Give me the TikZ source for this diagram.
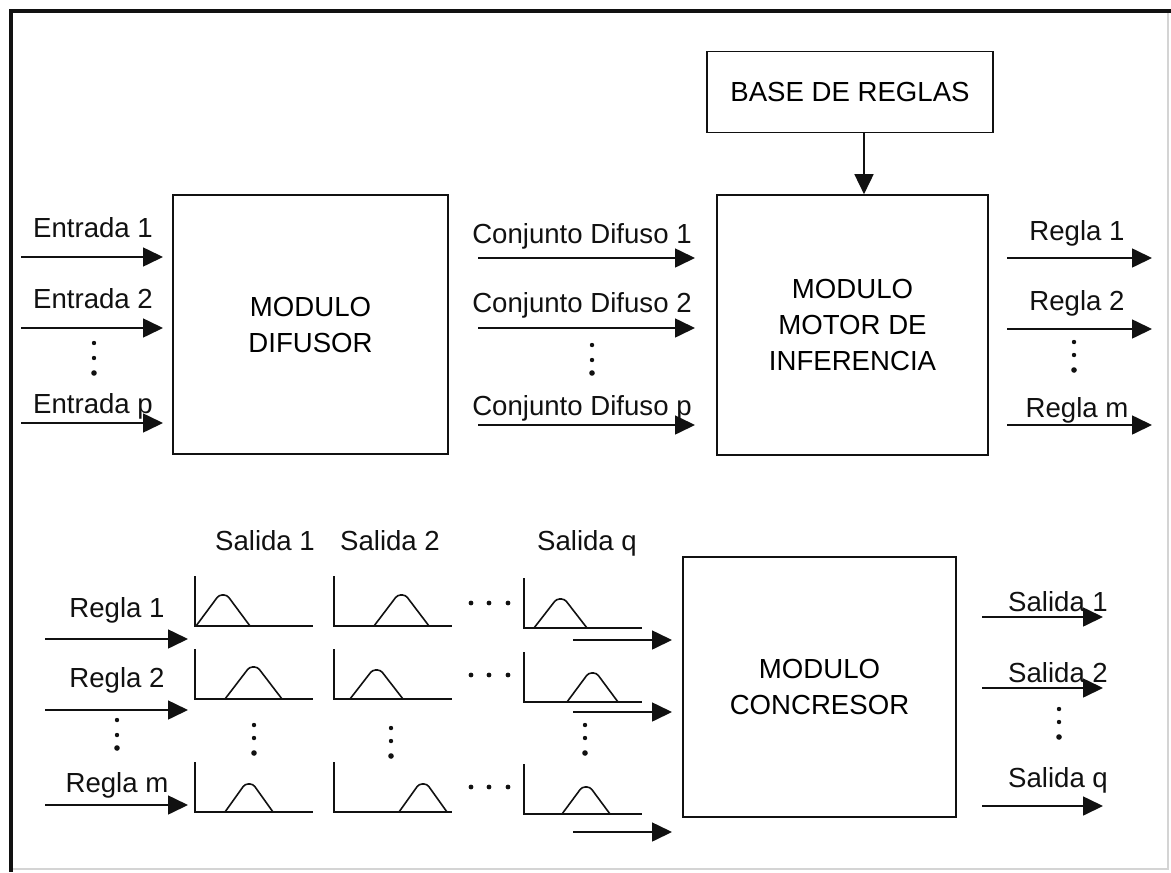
\documentclass[tikz,border=0pt]{standalone}
\usepackage{fontspec}
\setmainfont{Liberation Sans}
\usepackage{tikz}
\usetikzlibrary{positioning, arrows.meta}
\definecolor{inkBlack}{HTML}{111111}
\definecolor{edgeGrey}{HTML}{D4D4D4}

% small membership plot: axis x, base y, bump start, bump end, peak y
\newcommand{\mfplot}[5]{%
  \draw[plotline] (#1,#2-50) -- (#1,#2) -- (#1+118,#2);
  \draw[plotline, rounded corners=1.5pt] (#3,#2) -- ({(#3+#4)/2-4},#5) -- ({(#3+#4)/2+4},#5) -- (#4,#2);
}
% three stacked dots
\newcommand{\dotcol}[4]{%
  \fill[inkBlack] (#1,#2) circle (1.1pt) (#1,#3) circle (1.1pt) (#1,#4) circle (1.4pt);
}

\begin{document}
\begin{tikzpicture}[x=0.5pt, y=-0.5pt,
  font=\fontsize{13.8}{18}\selectfont,
  box/.style={draw=inkBlack, line width=0.8pt, align=center, inner sep=0pt},
  lbl/.style={anchor=base, inner sep=0pt, text=inkBlack},
  arr/.style={-{Triangle[length=10pt, width=9.5pt]}, inkBlack, line width=0.8pt},
  plotline/.style={inkBlack, line width=0.8pt}]

\useasboundingbox (0,0) rectangle (1171,872);

% frame
\draw[edgeGrey, line width=0.6pt] (1168,11) -- (1168,869) -- (11,869);
\draw[inkBlack, line width=2pt] (1171,11) -- (11,11) -- (11,872);

% modules
\node[box, minimum width=137.5pt, minimum height=129.5pt] (difusor) at (310.5,324.5) {MODULO\\DIFUSOR};
\node[box, minimum width=135.5pt, minimum height=130pt] (motor) at (852.5,325) {MODULO\\MOTOR DE\\INFERENCIA};
\node[box, minimum width=143pt, minimum height=40.5pt, above=30.5pt of motor, xshift=-1.25pt] (reglas) {BASE DE REGLAS};
\node[box, minimum width=136.5pt, minimum height=130pt] (concresor) at (819.5,687) {MODULO\\CONCRESOR};

\draw[arr] ([xshift=7pt]reglas.south) coordinate (bajada) -- (bajada |- motor.north);

% signal arrows
\foreach \nm/\xa/\xb/\y in {ent1/21/163/257, ent2/21/163/328, entp/21/163/423,
    cd1/478/695/258, cd2/478/695/328, cdp/478/695/425,
    rg1/1007/1152/258, rg2/1007/1152/329, rgm/1007/1152/425,
    ri1/45/188/639, ri2/45/188/710, rim/45/188/805,
    sq1/573/672/640, sq2/573/672/712, sqm/573/672/832,
    so1/982/1103/617, so2/982/1103/688, soq/982/1103/806} {
  \coordinate (\nm-s) at (\xa,\y);
  \coordinate (\nm-e) at (\xb,\y);
  \draw[arr] (\nm-s) -- (\nm-e);
}

% labels
\foreach \nm/\x/\y/\txt in {lent1/93/237/Entrada 1, lent2/93/308/Entrada 2, lentp/93/413/Entrada p,
    lcd1/582/243/Conjunto Difuso 1, lcd2/582/312/Conjunto Difuso 2, lcdp/582/415/Conjunto Difuso p,
    lrg1/1077/240/Regla 1, lrg2/1077/310/Regla 2, lrgm/1077/417/Regla m,
    lri1/117/617/Regla 1, lri2/117/687/Regla 2, lrim/117/792/Regla m,
    lsal1/265/550/Salida 1, lsal2/390/550/Salida 2, lsalq/587/550/Salida q,
    lso1/1058/611/Salida 1, lso2/1058/682/Salida 2, lsoq/1058/787/Salida q} {
  \node[lbl] (\nm) at (\x,\y) {\txt};
}

% membership plots
\mfplot{195}{626}{196}{250}{595}
\mfplot{334}{626}{374}{429}{595}
\mfplot{524}{628}{534}{587}{599}
\mfplot{195}{699}{225}{282}{667}
\mfplot{334}{699}{350}{403}{670}
\mfplot{524}{702}{567}{618}{673}
\mfplot{195}{812}{225}{273}{784}
\mfplot{334}{812}{399}{447}{784}
\mfplot{524}{814}{562}{610}{787}

% ellipses
\dotcol{94}{343}{358}{373}
\dotcol{592}{345}{360}{373}
\dotcol{1074}{342}{355}{370}
\dotcol{117}{720}{735}{748}
\dotcol{254}{725}{738}{753}
\dotcol{391}{728}{741}{756}
\dotcol{585}{725}{738}{753}
\dotcol{1059}{709}{722}{737}
\foreach \y in {603, 675, 787}
  \fill[inkBlack] (471,\y) circle (1.2pt) (489,\y) circle (1.2pt) (508,\y) circle (1.2pt);
\end{tikzpicture}
\end{document}
